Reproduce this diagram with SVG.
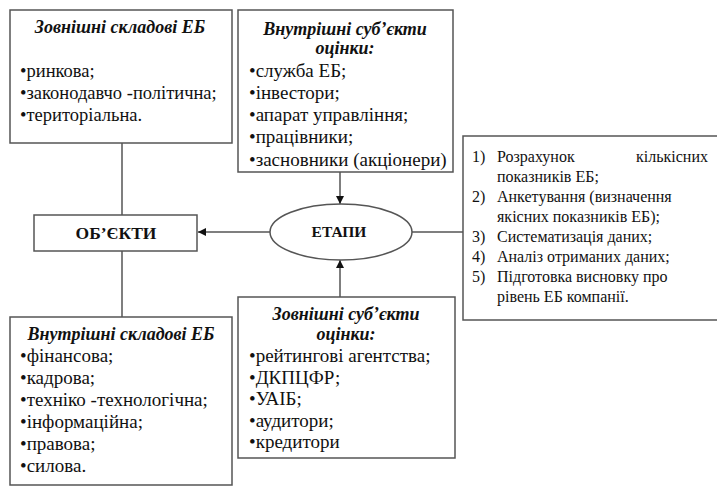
<svg xmlns="http://www.w3.org/2000/svg" width="717" height="486" viewBox="0 0 717 486">
<style>
.box{fill:#fff;stroke:#555;stroke-width:1.5}
.ln{stroke:#555;stroke-width:1.5;fill:none}
text{font-family:"Liberation Serif","Times New Roman","DejaVu Serif",serif;fill:#111;font-size:19px}
.t{font-weight:bold;font-style:italic;text-anchor:middle;font-size:18px}
.b{font-weight:bold;text-anchor:middle}
.s{font-size:16px}
</style>
<defs>
<marker id="ar" viewBox="0 0 10 10" refX="10" refY="5" markerWidth="8" markerHeight="8" markerUnits="userSpaceOnUse" orient="auto">
<path d="M0,0 L10,5 L0,10 z" fill="#111"/>
</marker>
</defs>
<rect width="717" height="486" fill="#fff"/>
<g id="connectors">
<line class="ln" x1="122" y1="143" x2="122" y2="215"/>
<line class="ln" x1="122" y1="251" x2="122" y2="317"/>
<line class="ln" x1="270" y1="232" x2="198" y2="232" marker-end="url(#ar)"/>
<line class="ln" x1="340" y1="172" x2="340" y2="204" marker-end="url(#ar)"/>
<line class="ln" x1="340" y1="297" x2="340" y2="260" marker-end="url(#ar)"/>
<line class="ln" x1="412" y1="232" x2="463" y2="232"/>
</g>
<g id="ext-components">
<rect class="box" x="10" y="10" width="222" height="133"/>
<text class="t" x="120" y="33">Зовнішні складові ЕБ</text>
<text x="20" y="77" style="font-size:18.5px">•ринкова;</text>
<text x="20" y="99" style="font-size:18.5px">•законодавчо -політична;</text>
<text x="20" y="121" style="font-size:18.5px">•територіальна.</text>
</g>
<g id="int-subjects">
<rect class="box" x="238" y="10" width="215" height="162"/>
<text class="t" x="345" y="35">Внутрішні суб’єкти</text>
<text class="t" x="345" y="54">оцінки:</text>
<text x="249" y="77">•служба ЕБ;</text>
<text x="249" y="99">•інвестори;</text>
<text x="249" y="121">•апарат управління;</text>
<text x="249" y="143">•працівники;</text>
<text x="249" y="166">•засновники (акціонери)</text>
</g>
<g id="objects">
<rect class="box" x="34" y="215" width="163" height="36"/>
<text class="b" x="116" y="239" style="font-size:17.5px">ОБ’ЄКТИ</text>
</g>
<g id="stages">
<ellipse class="box" cx="341" cy="232" rx="71" ry="28"/>
<text class="b" x="339" y="237" style="font-size:15.5px">ЕТАПИ</text>
</g>
<g id="steps">
<rect class="box" x="463" y="136" width="270" height="184"/>
<text class="s" x="472" y="162">1)</text><text class="s" x="497" y="162">Розрахунок</text><text class="s" x="636" y="162">кількісних</text>
<text class="s" x="497" y="182">показників ЕБ;</text>
<text class="s" x="472" y="202">2)</text><text class="s" x="497" y="202">Анкетування (визначення</text>
<text class="s" x="497" y="222">якісних показників ЕБ);</text>
<text class="s" x="472" y="242">3)</text><text class="s" x="497" y="242">Систематизація даних;</text>
<text class="s" x="472" y="262">4)</text><text class="s" x="497" y="262">Аналіз отриманих даних;</text>
<text class="s" x="472" y="282">5)</text><text class="s" x="497" y="282">Підготовка висновку про</text>
<text class="s" x="497" y="302">рівень ЕБ компанії.</text>
</g>
<g id="int-components">
<rect class="box" x="10" y="317" width="222" height="168"/>
<text class="t" x="121" y="340">Внутрішні складові ЕБ</text>
<text x="20" y="362">•фінансова;</text>
<text x="20" y="384">•кадрова;</text>
<text x="20" y="406">•техніко -технологічна;</text>
<text x="20" y="428">•інформаційна;</text>
<text x="20" y="450">•правова;</text>
<text x="20" y="472">•силова.</text>
</g>
<g id="ext-subjects">
<rect class="box" x="238" y="297" width="217" height="161"/>
<text class="t" x="346" y="320">Зовнішні суб’єкти</text>
<text class="t" x="346" y="340">оцінки:</text>
<text x="249" y="362">•рейтингові агентства;</text>
<text x="249" y="384">•ДКПЦФР;</text>
<text x="249" y="405">•УАІБ;</text>
<text x="249" y="427">•аудитори;</text>
<text x="249" y="448">•кредитори</text>
</g>
</svg>
